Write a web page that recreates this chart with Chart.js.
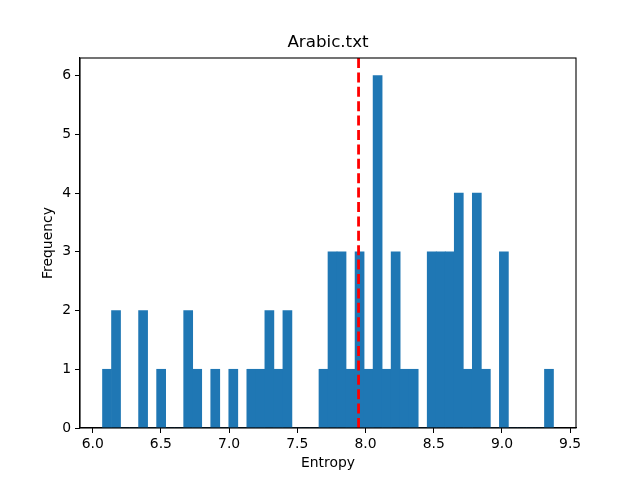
<!DOCTYPE html>
<html>
<head>
<meta charset="utf-8">
<script src="https://cdn.jsdelivr.net/npm/chart.js@4/dist/chart.umd.min.js"></script>
<style>
html,body{margin:0;padding:0;background:#fff;}
#wrap{width:640px;height:480px;}
</style>
</head>
<body>
<div id="wrap"><canvas id="c" width="640" height="480"></canvas></div>
<script>
const binStart = 6.072;
const binWidth = 0.06612;
const counts = [1,2,0,0,2,0,1,0,0,2,1,0,1,0,1,0,1,1,2,1,2,0,0,0,1,3,3,1,3,1,6,1,3,1,1,0,3,3,3,4,1,4,1,0,3,0,0,0,0,1];
const meanValue = 7.949;
const xTicks = [6.0,6.5,7.0,7.5,8.0,8.5,9.0,9.5];
const yTicks = [0,1,2,3,4,5,6];
const titleText = 'Arabic.txt';
const xMin = 5.907, xMax = 9.543, yMax = 6.3;

const barData = counts.map((c,i)=>({x: binStart + binWidth*(i+0.5), y: c}));
const font = {family: 'DejaVu Sans', size: 13.9};

const frame = {
  id:'frame',
  afterDatasetsDraw(chart){
    const a = chart.chartArea, ctx = chart.ctx;
    ctx.save();
    ctx.strokeStyle = '#000';
    ctx.lineWidth = 1.1;
    ctx.strokeRect(a.left, a.top, a.right-a.left, a.bottom-a.top);
    ctx.restore();
  },
  afterDraw(chart){
    const a = chart.chartArea, ctx = chart.ctx;
    ctx.save();
    ctx.fillStyle = '#000';
    ctx.font = '16.7px "DejaVu Sans"';
    ctx.textAlign = 'center';
    ctx.textBaseline = 'middle';
    ctx.fillText(titleText, (a.left + a.right)/2, 43);
    ctx.restore();
  }
};

new Chart(document.getElementById('c'), {
  type: 'bar',
  data: {
    datasets: [
      {
        type: 'bar',
        data: barData,
        backgroundColor: '#1f77b4',
        borderWidth: 0,
        barPercentage: 1.0,
        categoryPercentage: 1.0,
        order: 2
      },
      {
        type: 'line',
        data: [{x: meanValue, y: 0}, {x: meanValue, y: yMax}],
        borderColor: '#ff0000',
        borderWidth: 2.8,
        borderDash: [10, 4.4],
        pointRadius: 0,
        fill: false,
        order: 1
      }
    ]
  },
  options: {
    responsive: false,
    animation: false,
    devicePixelRatio: 1,
    layout: {padding: {left: 0, right: 64, top: 58, bottom: 0}},
    plugins: {
      legend: {display: false},
      tooltip: {enabled: false},
      title: {display: false}
    },
    scales: {
      x: {
        type: 'linear',
        min: xMin, max: xMax,
        offset: false,
        grid: {display: true, drawOnChartArea: false, drawTicks: true, tickLength: 5, color: '#000', offset: false},
        border: {display: true, color: '#000', width: 1.1},
        ticks: {color: '#000', font: font, padding: 3, maxRotation: 0, autoSkip: false,
          callback: v => v.toFixed(1)},
        afterBuildTicks: s => { s.ticks = xTicks.map(v => ({value: v})); },
        afterFit: s => { s.height = 52; },
        title: {display: true, text: 'Entropy', color: '#000', font: font, padding: {top: 0, bottom: 8}}
      },
      y: {
        type: 'linear',
        min: 0, max: yMax,
        grid: {display: true, drawOnChartArea: false, drawTicks: true, tickLength: 5, color: '#000'},
        border: {display: true, color: '#000', width: 1.1},
        ticks: {color: '#000', font: font, padding: 4, autoSkip: false, callback: v => String(v)},
        afterBuildTicks: s => { s.ticks = yTicks.map(v => ({value: v})); },
        afterFit: s => { s.width = 80; },
        title: {display: true, text: 'Frequency', color: '#000', font: font, padding: {top: 40, bottom: 0}}
      }
    }
  },
  plugins: [frame]
});
</script>
</body>
</html>
